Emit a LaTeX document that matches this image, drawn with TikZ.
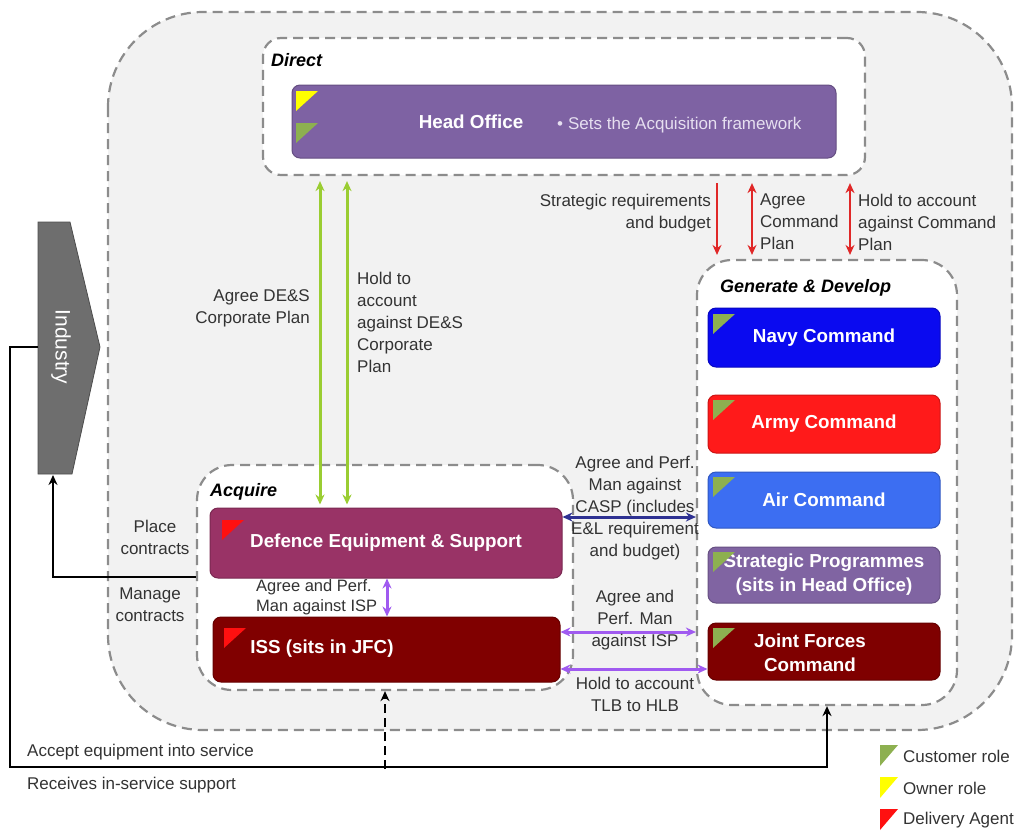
\documentclass[tikz,border=0pt]{standalone}
\usepackage{fontspec}
\setmainfont{Liberation Sans}
\usetikzlibrary{arrows.meta}
\definecolor{outerfill}{HTML}{F2F2F2}
\definecolor{dashgray}{HTML}{8C8C8C}
\definecolor{hopurple}{HTML}{7E62A3}
\definecolor{navyc}{HTML}{0A0AF0}
\definecolor{armyc}{HTML}{FF1A1A}
\definecolor{airc}{HTML}{3C6EF2}
\definecolor{stratc}{HTML}{8064A2}
\definecolor{jfcc}{HTML}{7F0000}
\definecolor{desc}{HTML}{993366}
\definecolor{issc}{HTML}{800000}
\definecolor{flaggreen}{HTML}{8DB050}
\definecolor{flagyellow}{HTML}{FFFF00}
\definecolor{flagred}{HTML}{FF1010}
\definecolor{arrgreen}{HTML}{9ACD32}
\definecolor{arrred}{HTML}{E02828}
\definecolor{arrblue}{HTML}{2E3192}
\definecolor{arrpurple}{HTML}{A05AF0}
\definecolor{industryc}{HTML}{6E6E6E}
\definecolor{hotext}{HTML}{E6DFF0}
\definecolor{labelc}{HTML}{333333}
\newcommand\roleflag[3]{\fill[#1] (#2,#3) -- ++(22,0) -- ++(-22,20) -- cycle;}
\begin{document}
\begin{tikzpicture}[x=1pt,y=-1pt,
  dashbox/.style={draw=dashgray, line width=2.2pt, dash pattern=on 10pt off 6pt},
  box/.style={draw=#1!80!black, fill=#1, rounded corners=8pt, line width=1pt, text=white,
    font=\bfseries\fontsize{18.8}{24}\selectfont, align=center, inner sep=0pt},
  boxtext/.style={font=\bfseries\fontsize{18.8}{24}\selectfont, text=white, align=center},
  grouptitle/.style={font=\bfseries\itshape\fontsize{18}{21}\selectfont, anchor=west, inner sep=0pt},
  lbl/.style={font=\fontsize{17}{22}\selectfont, text=labelc, inner sep=0pt},
  tip/.style={-{Stealth[length=10pt,width=9pt]}},
  dtip/.style={{Stealth[length=10pt,width=9pt]}-{Stealth[length=10pt,width=9pt]}},
  greenarr/.style={dtip, draw=arrgreen, line width=3pt},
  redarr/.style={draw=arrred, line width=2.6pt},
  purparr/.style={dtip, draw=arrpurple, line width=3pt},
  blackline/.style={draw=black, line width=2.6pt}
]
\useasboundingbox (0,0) rectangle (1015,831);

% outer container
\draw[dashbox, fill=outerfill, rounded corners=95pt] (108,12) rectangle (1012,730);

% group boxes
\node[dashbox, fill=white, rounded corners=18pt, minimum width=602pt, minimum height=137pt] (direct) at (564,106.5) {};
\node[dashbox, fill=white, rounded corners=35pt, minimum width=376pt, minimum height=225pt] (acq) at (385,577.5) {};
\node[dashbox, fill=white, rounded corners=35pt, minimum width=260pt, minimum height=445pt] (gd) at (827,482.5) {};

\node[grouptitle] (directt) at (271,60) {Direct};
\node[grouptitle] (acqt) at (210,492) {Acquire};
\node[grouptitle] (gdt) at (720,288) {Generate \& Develop};

% Head Office
\node[box=hopurple, minimum width=544pt, minimum height=73pt] (ho) at (564,121.5) {};
\node[boxtext] (hotitle) at (471,122) {Head Office};
\node[anchor=west, text=hotext, font=\fontsize{17}{20}\selectfont, inner sep=0pt] (hobullet) at (557,125) {•\hspace{5pt}Sets the Acquisition framework};
\roleflag{flagyellow}{296}{91}
\roleflag{flaggreen}{296}{123}

% Commands
\node[box=navyc, minimum width=232pt, minimum height=59pt] (navy) at (824,337.5) {Navy Command};
\node[box=armyc, minimum width=232pt, minimum height=58pt] (army) at (824,424) {Army Command};
\node[box=airc, minimum width=232pt, minimum height=56pt] (air) at (824,500) {Air Command};
\node[box=stratc, minimum width=232pt, minimum height=56pt] (strat) at (824,575) {Strategic Programmes\\(sits in Head Office)};
\node[box=jfcc, minimum width=232pt, minimum height=57pt] (jfc) at (824,651.5) {};
\node[boxtext] (jfct) at (810,653) {Joint Forces\\Command};
\roleflag{flaggreen}{713}{314}
\roleflag{flaggreen}{713}{400}
\roleflag{flaggreen}{713}{477}
\roleflag{flaggreen}{713}{552}
\roleflag{flaggreen}{713}{628}

% Acquire boxes
\node[box=desc, minimum width=352pt, minimum height=70pt] (des) at (386,543) {};
\node[boxtext] (dest) at (386,543) {Defence Equipment \& Support};
\node[box=issc, minimum width=347pt, minimum height=65pt] (iss) at (386.5,649.5) {};
\node[boxtext] (isst) at (322,649) {ISS (sits in JFC)};
\roleflag{flagred}{222}{520}
\roleflag{flagred}{224}{628}

% Industry
\fill[industryc, draw=industryc!70!black, line width=0.8pt] (38,222) -- (70,222) -- (100,347) -- (72,474) -- (38,474) -- cycle;
\node[rotate=-90, text=white, font=\fontsize{21}{24}\selectfont] (indt) at (61,347) {Industry};
\coordinate (indW) at (38,347);
\coordinate (indS) at (53,475);

% Direct -> DE&S green arrows
\draw[greenarr, shorten <=5pt, shorten >=3pt] (320,0 |- direct.south) -- (320,0 |- des.north);
\draw[greenarr, shorten <=5pt, shorten >=3pt] (347,0 |- direct.south) -- (347,0 |- des.north);
\node[lbl, align=right, anchor=east] (l1) at (310,308) {Agree DE\&S\\Corporate Plan};
\node[lbl, align=left, anchor=west] (l2) at (357,322) {Hold to\\account\\against DE\&S\\Corporate\\Plan};

% Direct -> G&D red arrows
\draw[redarr, tip, shorten <=7pt, shorten >=4pt] (717,0 |- direct.south) -- (717,0 |- gd.north);
\draw[redarr, dtip, shorten <=7pt, shorten >=4pt] (752,0 |- direct.south) -- (752,0 |- gd.north);
\draw[redarr, dtip, shorten <=7pt, shorten >=4pt] (850,0 |- direct.south) -- (850,0 |- gd.north);
\node[lbl, align=right, anchor=east] (l3) at (711,213) {Strategic requirements\\and budget};
\node[lbl, align=left, anchor=west] (l4) at (760,222) {Agree\\Command\\Plan};
\node[lbl, align=left, anchor=west] (l5) at (858,222) {Hold to account\\against Command\\Plan};

% DE&S <-> ISS
\draw[purparr] (387,0 |- des.south) -- (387,0 |- iss.north);
\node[lbl, align=left, anchor=west, font=\fontsize{16.5}{20}\selectfont] (l6) at (256,597) {Agree and Perf.\\Man against ISP};

% DE&S <-> G&D (blue)
\draw[dtip, draw=arrblue, line width=3pt] (des.east |- 0,517) -- (gd.west |- 0,517);
\node[lbl, align=center] (l7) at (635,508) {Agree and Perf.\\Man against\\CASP (includes\\E\&L requirement\\and budget)};

% ISS <-> G&D, ISS <-> JFC
\draw[purparr] (iss.east |- 0,632) -- (gd.west |- 0,632);
\node[lbl, align=center] (l8) at (635,620) {Agree and\\Perf. Man\\against ISP};
\draw[purparr] (iss.east |- 0,669) -- (jfc.west |- 0,669);
\node[lbl, align=center] (l9) at (635,694) {Hold to account\\TLB to HLB};

% contracts
\draw[blackline, tip] (acq.west |- 0,577) -| (indS);
\node[lbl, align=center] (l10) at (155,537) {Place\\contracts};
\node[lbl, align=center] (l11) at (150,605) {Manage\\contracts};

% equipment into service
\draw[blackline, tip] (indW) -- (10,347) -- (10,767) -| (gd.south);
\coordinate (dashstart) at (385,769);
\draw[blackline, dash pattern=on 9pt off 5pt, tip] (dashstart) -- (acq.south);
\node[lbl, anchor=west] (l12) at (27,752) {Accept equipment into service};
\node[lbl, anchor=west] (l13) at (27,785) {Receives in-service support};

% legend
\fill[flaggreen] (880,745) -- ++(18,0) -- ++(-18,21) -- cycle;
\fill[flagyellow] (880,777) -- ++(18,0) -- ++(-18,21) -- cycle;
\fill[flagred] (880,809) -- ++(18,0) -- ++(-18,21) -- cycle;
\node[lbl, anchor=west] (lg1) at (903,756) {Customer role};
\node[lbl, anchor=west] (lg2) at (903,788) {Owner role};
\node[lbl, anchor=west] (lg3) at (903,820) {Delivery Agent};
\end{tikzpicture}
\end{document}
